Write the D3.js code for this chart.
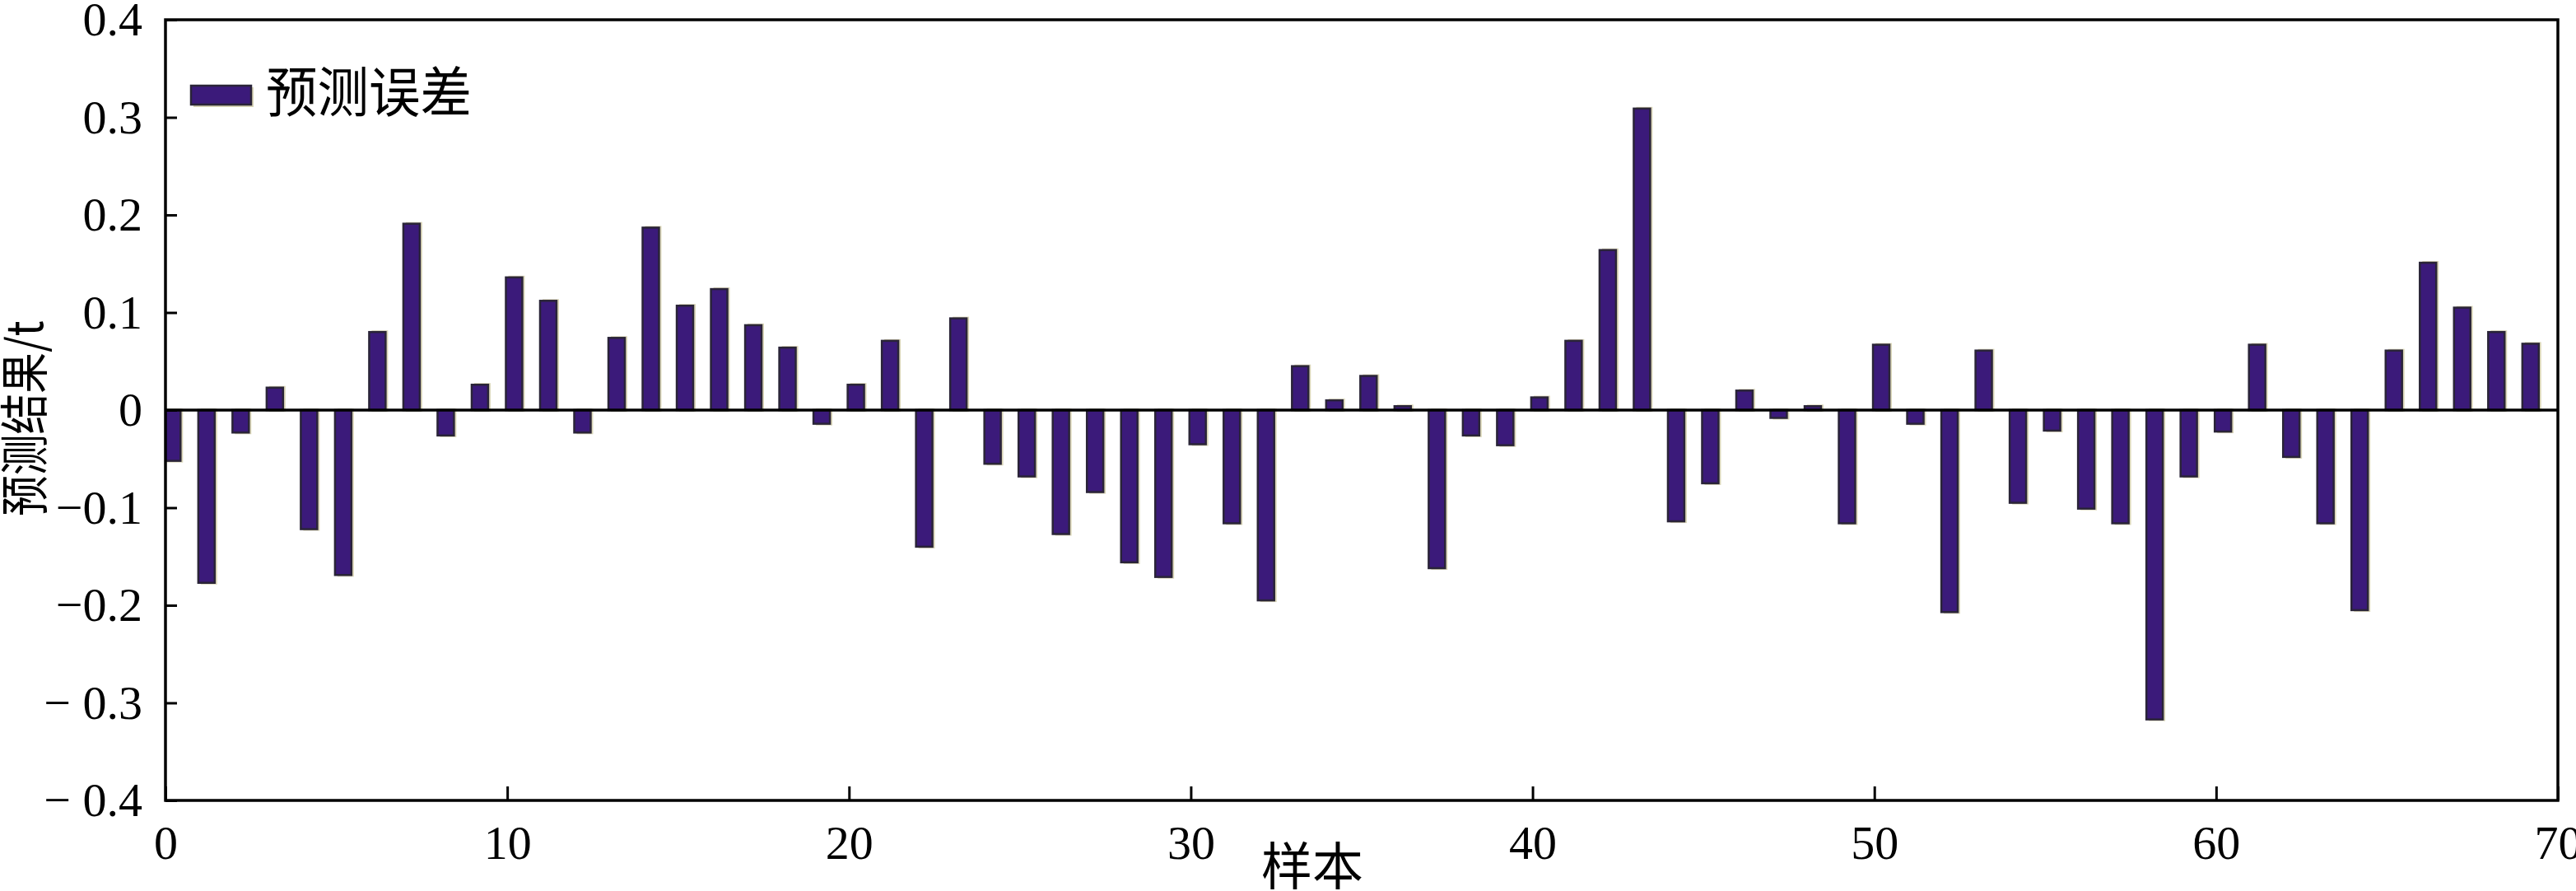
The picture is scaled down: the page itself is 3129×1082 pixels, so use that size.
<!DOCTYPE html>
<html>
<head>
<meta charset="utf-8">
<script src="https://cdn.jsdelivr.net/npm/d3@7"></script>
<style>
  html, body { margin: 0; padding: 0; background: #fff; }
  svg { display: block; }
</style>
</head>
<body>
<svg id="chart" width="3129" height="1082"></svg>
<script>
// ---- data ----
const samples = d3.range(70);
const errors = [
  -0.052, -0.177, -0.023, 0.023, -0.122, -0.169, 0.080, 0.191, -0.026, 0.026,
   0.136,  0.112, -0.023, 0.074,  0.187,  0.107, 0.124, 0.087,  0.064, -0.014,
   0.026,  0.071, -0.140, 0.094, -0.055, -0.068, -0.127, -0.084, -0.156, -0.171,
  -0.035, -0.116, -0.195, 0.045,  0.010,  0.035, 0.004, -0.162, -0.026, -0.036,
   0.013,  0.071,  0.164, 0.309, -0.114, -0.075, 0.020, -0.008,  0.004, -0.116,
   0.067, -0.014, -0.207, 0.061, -0.095, -0.021, -0.101, -0.116, -0.317, -0.068,
  -0.022,  0.067, -0.048, -0.116, -0.205,  0.061, 0.151, 0.105,  0.080,  0.068
];
const xTicks = [0, 10, 20, 30, 40, 50, 60, 70];
const xTickLabels = ["0", "10", "20", "30", "40", "50", "60", "70"];
const yTicks = [-0.4, -0.3, -0.2, -0.1, 0, 0.1, 0.2, 0.3, 0.4];
const yTickLabels = ["\u2212 0.4", "\u2212 0.3", "\u22120.2", "\u22120.1", "0", "0.1", "0.2", "0.3", "0.4"];
const seriesName = "预测误差";
const xTitle = "样本";
const yTitle = "预测结果/t";

// ---- layout ----
const L = 201, R = 3107, T = 24, B = 972;
const svg = d3.select("#chart");
const x = d3.scaleLinear().domain([0, 70]).range([L, R]);
const y = d3.scaleLinear().domain([-0.4, 0.4]).range([B, T]);

const numFont = "'Liberation Serif', 'Times New Roman', serif";
const cjkFont = "'Noto Sans CJK SC', 'Noto Sans', sans-serif";
const barFill = "#3b1a7a";
const barEdge = "#2a2438";
const shadow = "#d9d5b6";

svg.append("defs").append("clipPath").attr("id", "plotClip")
  .append("rect").attr("x", L).attr("y", T).attr("width", R - L).attr("height", B - T);

// ---- bars ----
const barOffset = 0.2, barW = 0.48;
const bw = x(barW) - x(0);
const g = svg.append("g").attr("clip-path", "url(#plotClip)");
const bars = g.selectAll("g.bar").data(samples).enter().append("g").attr("class", "bar");
bars.append("rect")
  .attr("x", i => x(i + barOffset) - bw / 2 + 3)
  .attr("y", i => y(Math.max(errors[i], 0)) - 2)
  .attr("width", bw)
  .attr("height", i => Math.abs(y(errors[i]) - y(0)) + 4)
  .attr("fill", shadow);
bars.append("rect")
  .attr("x", i => x(i + barOffset) - bw / 2)
  .attr("y", i => y(Math.max(errors[i], 0)))
  .attr("width", bw)
  .attr("height", i => Math.abs(y(errors[i]) - y(0)))
  .attr("fill", barFill)
  .attr("stroke", barEdge)
  .attr("stroke-width", 2.5);

// zero line
svg.append("line")
  .attr("x1", L).attr("x2", R).attr("y1", y(0)).attr("y2", y(0))
  .attr("stroke", "#000").attr("stroke-width", 3.5);

// ---- axes ----
const xAxis = d3.axisBottom(x).tickValues(xTicks)
  .tickFormat((d, i) => xTickLabels[i]).tickSize(-17).tickPadding(30);
const gx = svg.append("g").attr("transform", `translate(0,${B})`).call(xAxis);
const yAxis = d3.axisLeft(y).tickValues(yTicks)
  .tickFormat((d, i) => yTickLabels[i]).tickSize(-14).tickPadding(28);
const gy = svg.append("g").attr("transform", `translate(${L},0)`).call(yAxis);
[gx, gy].forEach(a => {
  a.select(".domain").remove();
  a.selectAll(".tick line").attr("stroke", "#000").attr("stroke-width", 3);
  a.selectAll(".tick text").attr("fill", "#000")
    .style("font-family", numFont).style("font-size", "58px");
});
gx.selectAll(".tick text").attr("dy", "0.71em");

// frame
svg.append("rect")
  .attr("x", L).attr("y", T).attr("width", R - L).attr("height", B - T)
  .attr("fill", "none").attr("stroke", "#000").attr("stroke-width", 3.5);

// ---- titles ----
svg.append("text")
  .attr("x", 1594).attr("y", 1075)
  .attr("text-anchor", "middle")
  .style("font-family", cjkFont).style("font-size", "62px").attr("fill", "#000")
  .text(xTitle);
svg.append("text")
  .attr("transform", "translate(52,627) rotate(-90) scale(0.83,1)")
  .attr("text-anchor", "start")
  .style("font-family", cjkFont).style("font-size", "60px").attr("fill", "#000")
  .text(yTitle);

// ---- legend ----
const lg = svg.append("g");
lg.append("rect").attr("x", 235).attr("y", 106).attr("width", 73).attr("height", 24).attr("fill", shadow);
lg.append("rect").attr("x", 232).attr("y", 104).attr("width", 73).attr("height", 23)
  .attr("fill", barFill).attr("stroke", barEdge).attr("stroke-width", 2.5);
lg.append("text").attr("x", 323).attr("y", 136)
  .attr("textLength", 250).attr("lengthAdjust", "spacingAndGlyphs")
  .style("font-family", cjkFont).style("font-size", "66px").attr("fill", "#000")
  .text(seriesName);
</script>
</body>
</html>
